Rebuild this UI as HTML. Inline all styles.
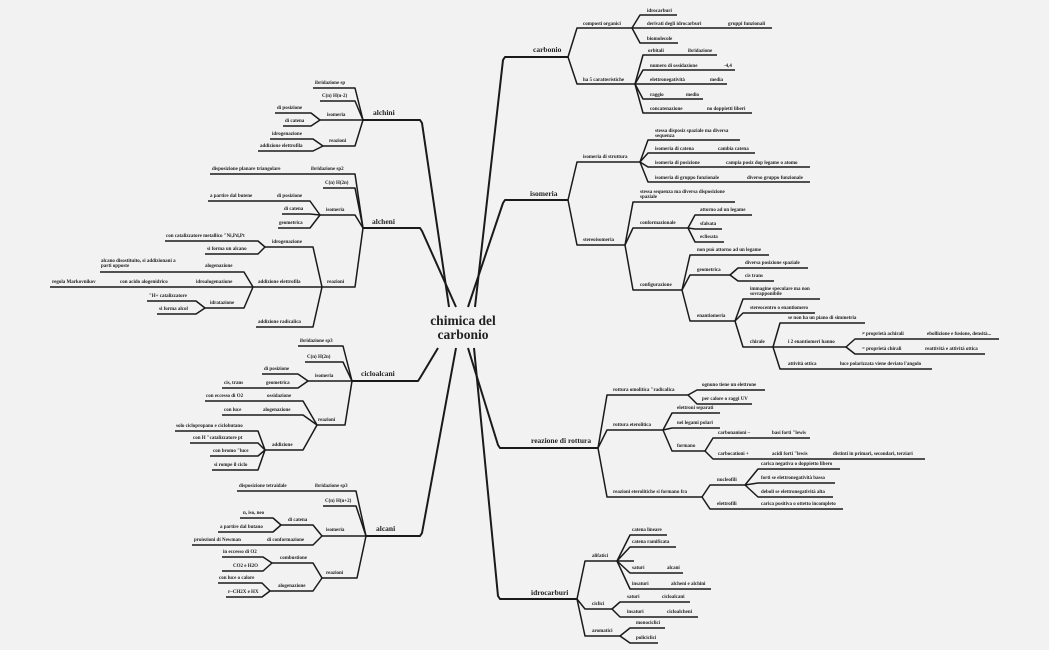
<!DOCTYPE html>
<html><head><meta charset="utf-8"><style>
html,body{margin:0;padding:0;background:#f2f2f2;}
svg{display:block}
text{font-family:"Liberation Serif",serif;font-weight:bold;font-size:5px;fill:#222}
.m{font-size:7.5px}
.c{font-size:13.5px}
path{fill:none;stroke:#1a1a1a;stroke-width:1.5;stroke-linejoin:round}
.t{stroke-width:2}
</style></head><body>
<svg width="1049" height="650" viewBox="0 0 1049 650" xmlns="http://www.w3.org/2000/svg">
<rect width="1049" height="650" fill="#f2f2f2"/>
<text class="c" x="463" y="325" text-anchor="middle">chimica del</text>
<text class="c" x="463" y="339" text-anchor="middle">carbonio</text>

<!-- carbonio -->
<path class="t" d="M475,307 L503,60 L505,57 L568,57"/><text class="m" x="533" y="52">carbonio</text>
<path d="M568,57 L577,28 L632,28"/><text x="583" y="25">composti organici</text>
<path d="M632,28 L640,15 L677,15"/><text x="647" y="12">idrocarburi</text>
<path d="M632,28 L772,28"/><text x="647" y="25">derivati degli idrocarburi</text><text x="728" y="25">gruppi funzionali</text>
<path d="M632,28 L640,43 L678,43"/><text x="647" y="40">biomolecole</text>
<path d="M568,57 L577,84 L635,84"/><text x="583" y="81">ha 5 caratteristiche</text>
<path d="M635,84 L643,55 L717,55"/><text x="648" y="52">orbitali</text><text x="688" y="52">ibridazione</text>
<path d="M635,84 L643,70 L735,70"/><text x="650" y="67">numero di ossidazione</text><text x="724" y="67">-4,4</text>
<path d="M635,84 L727,84"/><text x="650" y="81">elettronegatività</text><text x="710" y="81">media</text>
<path d="M635,84 L643,99 L703,99"/><text x="650" y="96">raggio</text><text x="686" y="96">medio</text>
<path d="M635,84 L643,113 L752,113"/><text x="650" y="110">concatenazione</text><text x="707" y="110">no doppietti liberi</text>

<!-- isomeria -->
<path class="t" d="M468,307 L503,203 L505,200 L568,200"/><text class="m" x="530" y="196">isomeria</text>
<path d="M568,200 L577,162 L640,162"/><text x="583" y="158">isomeria di struttura</text>
<path d="M640,162 L648,140 L740,140"/><text x="655" y="132">stessa disposiz spaziale ma diversa</text><text x="655" y="137">sequenza</text>
<path d="M640,162 L648,153 L755,153"/><text x="655" y="150">isomeria di catena</text><text x="718" y="150">cambia catena</text>
<path d="M640,162 L648,167 L810,167"/><text x="655" y="164">isomeria di posizione</text><text x="726" y="164">campia posiz dop legame o  atomo</text>
<path d="M640,162 L648,182 L810,182"/><text x="655" y="179">isomeria di gruppo funzionale</text><text x="747" y="179">diverso gruppo funzionale</text>
<path d="M568,200 L577,245 L625,245"/><text x="583" y="241">stereoisomeria</text>
<path d="M625,245 L633,202 L735,202"/><text x="640" y="193">stessa sequenza ma diversa disposizione</text><text x="640" y="198">spaziale</text>
<path d="M625,245 L633,228 L688,228"/><text x="640" y="224">conformazionale</text>
<path d="M688,228 L695,215 L752,215"/><text x="700" y="211">attorno ad un legame</text>
<path d="M688,228 L695,229 L722,229"/><text x="700" y="225">sfalsata</text>
<path d="M688,228 L695,242 L724,242"/><text x="700" y="238">eclissata</text>
<path d="M625,245 L633,290 L682,290"/><text x="640" y="286">configurazione</text>
<path d="M682,290 L690,255 L769,255"/><text x="697" y="251">non può attorno ad un legame</text>
<path d="M682,290 L690,275 L730,275"/><text x="697" y="271">geometrica</text>
<path d="M730,275 L738,268 L808,268"/><text x="745" y="264">diversa posizione spaziale</text>
<path d="M730,275 L738,281 L774,281"/><text x="745" y="277">cis trans</text>
<path d="M682,290 L690,321 L735,321"/><text x="697" y="317">enantiomeria</text>
<path d="M735,321 L743,299 L820,299"/><text x="750" y="290">immagine speculare ma non</text><text x="750" y="295">sovrapponibile</text>
<path d="M735,321 L743,313 L815,313"/><text x="750" y="309">stereocentro o enantiomero</text>
<path d="M735,321 L743,347 L773,347"/><text x="750" y="343">chirale</text>
<path d="M773,347 L780,323 L865,323"/><text x="788" y="319">se non ha un piano di simmetria</text>
<path d="M773,347 L846,347"/><text x="788" y="343">i 2 enantiomeri hanno</text>
<path d="M846,347 L855,339 L999,339"/><text x="862" y="335">≠ proprietà achirali</text><text x="927" y="335">ebollizione e fusione, densità...</text>
<path d="M846,347 L855,354 L985,354"/><text x="862" y="350">= proprietà chirali</text><text x="925" y="350">reattività e attività ottica</text>
<path d="M773,347 L780,369 L932,369"/><text x="788" y="365">attività ottica</text><text x="840" y="365">luce polarizzata viene deviato l'angolo</text>

<!-- reazione di rottura -->
<path class="t" d="M468,348 L498,445 L500,448 L598,448"/><text class="m" x="531" y="443">reazione di rottura</text>
<path d="M598,448 L607,395 L688,395"/><text x="613" y="391">rottura omolitica "radicalica</text>
<path d="M688,395 L697,390 L765,390"/><text x="702" y="386">ognuno tiene un elettrone</text>
<path d="M688,395 L697,404 L752,404"/><text x="702" y="400">per calore o raggi UV</text>
<path d="M598,448 L607,430 L663,430"/><text x="613" y="426">rottura eterolitica</text>
<path d="M663,430 L672,413 L720,413"/><text x="677" y="409">elettroni separati</text>
<path d="M663,430 L672,428 L720,428"/><text x="677" y="424">nei legami polari</text>
<path d="M663,430 L672,451 L705,451"/><text x="677" y="447">formano</text>
<path d="M705,451 L713,438 L810,438"/><text x="718" y="434">carbonanioni –</text><text x="772" y="434">basi forti "lewis</text>
<path d="M705,451 L713,459 L925,459"/><text x="718" y="455">carbocationi +</text><text x="772" y="455">acidi forti "lewis</text><text x="833" y="455">distinti in primari, secondari, terziari</text>
<path d="M598,448 L607,497 L702,497"/><text x="613" y="493">reazioni eterolitiche si formano fra</text>
<path d="M702,497 L710,485 L745,485"/><text x="717" y="481">nucleofili</text>
<path d="M745,485 L758,469 L840,469"/><text x="761" y="465">carica negativa o doppietto libero</text>
<path d="M745,485 L758,483 L835,483"/><text x="761" y="479">forti se elettronegatività bassa</text>
<path d="M745,485 L758,497 L833,497"/><text x="761" y="493">deboli se elettronegatività alta</text>
<path d="M702,497 L710,509 L843,509"/><text x="717" y="505">elettrofili</text><text x="761" y="505">carica positiva o ottetto incompleto</text>

<!-- idrocarburi -->
<path class="t" d="M474,348 L498,596 L500,599 L577,599"/><text class="m" x="531" y="595">idrocarburi</text>
<path d="M577,599 L585,561 L617,561"/><text x="592" y="557">alifatici</text>
<path d="M617,561 L630,535 L667,535"/><text x="632" y="531">catena lineare</text>
<path d="M617,561 L630,547 L676,547"/><text x="632" y="543">catena ramificata</text>
<path d="M617,561 L634,561"/>
<path d="M617,561 L630,573 L683,573"/><text x="632" y="569">saturi</text><text x="667" y="569">alcani</text>
<path d="M617,561 L630,589 L711,589"/><text x="632" y="585">insaturi</text><text x="671" y="585">alcheni e alchini</text>
<path d="M577,599 L585,609 L612,609"/><text x="592" y="605">ciclici</text>
<path d="M612,609 L620,602 L690,602"/><text x="627" y="598">saturi</text><text x="662" y="598">cicloalcani</text>
<path d="M612,609 L620,617 L698,617"/><text x="627" y="613">insaturi</text><text x="667" y="613">cicloalcheni</text>
<path d="M577,599 L585,636 L620,636"/><text x="592" y="632">aromatici</text>
<path d="M620,636 L630,628 L665,628"/><text x="636" y="624">monociclici</text>
<path d="M620,636 L630,643 L658,643"/><text x="636" y="639">policiclici</text>

<!-- alchini -->
<path class="t" d="M449,307 L422,123 L420,120 L363,120"/><text class="m" x="373" y="115">alchini</text>
<path d="M363,120 L355,88 L313,88"/><text x="315" y="84">ibridazione sp</text>
<path d="M363,120 L355,101 L320,101"/><text x="322" y="97">C(n) H(n-2)</text>
<path d="M363,120 L320,120"/><text x="327" y="116">isomeria</text>
<path d="M320,120 L311,113 L275,113"/><text x="277" y="109">di posizione</text>
<path d="M320,120 L311,126 L283,126"/><text x="285" y="122">di catena</text>
<path d="M363,120 L355,146 L323,146"/><text x="329" y="142">reazioni</text>
<path d="M323,146 L313,139 L270,139"/><text x="272" y="135">idrogenazione</text>
<path d="M323,146 L313,151 L258,151"/><text x="260" y="147">addizione elettrofila</text>

<!-- alcheni -->
<path class="t" d="M456,307 L422,231 L420,228 L363,228"/><text class="m" x="372" y="224">alcheni</text>
<path d="M363,228 L355,174 L210,174"/><text x="212" y="170">disposizione planare triangolare</text><text x="311" y="170">ibridazione sp2</text>
<path d="M363,228 L355,188 L323,188"/><text x="325" y="184">C(n) H(2n)</text>
<path d="M363,228 L355,215 L320,215"/><text x="326" y="211">isomeria</text>
<path d="M320,215 L310,201 L208,201"/><text x="210" y="197">a partire dal butene</text><text x="277" y="197">di posizione</text>
<path d="M320,215 L310,214 L282,214"/><text x="284" y="210">di catena</text>
<path d="M320,215 L310,228 L278,228"/><text x="279" y="224">geometrica</text>
<path d="M363,228 L355,287 L322,287"/><text x="327" y="283">reazioni</text>
<path d="M322,287 L313,247 L265,247"/><text x="272" y="243">idrogenazione</text>
<path d="M265,247 L258,241 L165,241"/><text x="166" y="237">con catalizzatore metallico "Ni,Pd,Pt</text>
<path d="M265,247 L258,254 L205,254"/><text x="207" y="250">si forma un alcano</text>
<path d="M322,287 L253,287"/><text x="258" y="283">addizione elettrofila</text>
<path d="M253,287 L244,272 L100,272"/><text x="101" y="262">alcano disostituito, si addizionani a</text><text x="101" y="267">parti opposte</text><text x="205" y="267">alogenazione</text>
<path d="M253,287 L50,287"/><text x="52" y="283">regola Markovnikov</text><text x="120" y="283">con acido alogenidrico</text><text x="196" y="283">idroalogenazione</text>
<path d="M253,287 L244,308 L205,308"/><text x="210" y="304">idratazione</text>
<path d="M205,308 L196,301 L147,301"/><text x="149" y="297">"H+ catalizzatore</text>
<path d="M205,308 L196,314 L157,314"/><text x="159" y="310">si forma alcol</text>
<path d="M322,287 L313,327 L256,327"/><text x="258" y="323">addizione radicalica</text>

<!-- cicloalcani -->
<path class="t" d="M438,348 L420,378 L418,381 L352,381"/><text class="m" x="361" y="376">cicloalcani</text>
<path d="M352,381 L343,346 L298,346"/><text x="300" y="342">ibridazione sp3</text>
<path d="M352,381 L343,362 L305,362"/><text x="307" y="358">C(n) H(2n)</text>
<path d="M352,381 L308,381"/><text x="315" y="377">isomeria</text>
<path d="M308,381 L298,374 L262,374"/><text x="264" y="370">di posizione</text>
<path d="M308,381 L298,388 L222,388"/><text x="224" y="384">cis, trans</text><text x="266" y="384">geometrica</text>
<path d="M352,381 L345,425 L317,425"/><text x="318" y="421">reazioni</text>
<path d="M317,425 L303,401 L205,401"/><text x="206" y="397">con eccesso di O2</text><text x="267" y="397">ossidazione</text>
<path d="M317,425 L303,415 L222,415"/><text x="224" y="411">con luce</text><text x="263" y="411">alogenazione</text>
<path d="M317,425 L303,450 L265,450"/><text x="272" y="446">addizione</text>
<path d="M265,450 L258,431 L175,431"/><text x="176" y="427">solo  ciclopropano e ciclobutano</text>
<path d="M265,450 L258,443 L190,443"/><text x="193" y="439">con H "catalizzatore pt</text>
<path d="M265,450 L258,456 L210,456"/><text x="213" y="452">con bromo "luce</text>
<path d="M265,450 L258,470 L212,470"/><text x="214" y="466">si rompe il ciclo</text>

<!-- alcani -->
<path class="t" d="M456,348 L422,533 L420,536 L366,536"/><text class="m" x="376" y="531">alcani</text>
<path d="M366,536 L356,491 L237,491"/><text x="239" y="487">disposizione tetraidale</text><text x="315" y="487">ibridazione sp3</text>
<path d="M366,536 L356,506 L323,506"/><text x="325" y="502">C(n) H(n+2)</text>
<path d="M366,536 L322,536"/><text x="326" y="531">isomeria</text>
<path d="M322,536 L313,525 L281,525"/><text x="288" y="521">di catena</text>
<path d="M281,525 L273,518 L240,518"/><text x="243" y="514">n, iso, neo</text>
<path d="M281,525 L273,532 L218,532"/><text x="220" y="528">a partire dal butano</text>
<path d="M322,536 L313,545 L192,545"/><text x="194" y="541">proiezioni di Newman</text><text x="267" y="541">di conformazione</text>
<path d="M366,536 L357,578 L322,578"/><text x="326" y="574">reazioni</text>
<path d="M322,578 L313,563 L272,563"/><text x="280" y="559">combustione</text>
<path d="M272,563 L263,557 L222,557"/><text x="223" y="553">in eccesso di O2</text>
<path d="M272,563 L263,571 L222,571"/><text x="233" y="567">CO2 e H2O</text>
<path d="M322,578 L313,591 L270,591"/><text x="278" y="587">alogenazione</text>
<path d="M270,591 L262,583 L218,583"/><text x="219" y="579">con luce o calore</text>
<path d="M270,591 L262,597 L226,597"/><text x="228" y="593">r–CH2X e HX</text>
</svg>
</body></html>
